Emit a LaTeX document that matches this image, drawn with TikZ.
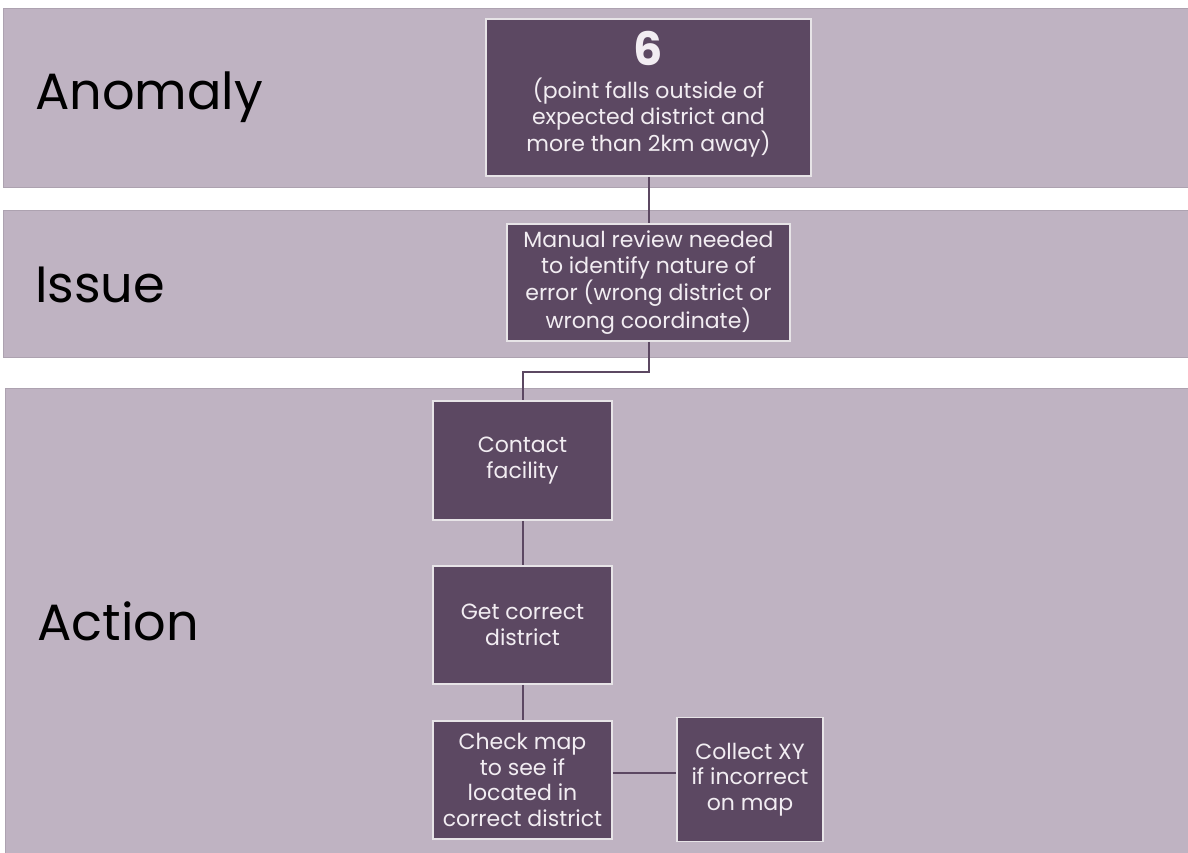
\documentclass[tikz,border=0pt]{standalone}
\usepackage{fontspec}
\setmainfont{Poppins}
\definecolor{bandfill}{HTML}{BFB3C2}
\definecolor{bandedge}{HTML}{ADA2B0}
\definecolor{plum}{HTML}{5C4862}
\definecolor{boxtext}{HTML}{F2EDF2}
\begin{document}
\begin{tikzpicture}[x=1pt,y=-1pt,
  band/.style={fill=bandfill, draw=bandedge, line width=1},
  bandlabel/.style={anchor=west, inner sep=0, text=black, font=\fontsize{51}{55}\selectfont},
  stepbox/.style={fill=plum, draw=white!85!plum, line width=1.5, text=boxtext, align=center,
                  font=\fontsize{22}{25.5}\selectfont, inner sep=0},
  link/.style={draw=plum, line width=2}]
\useasboundingbox (0,0) rectangle (1188,852);
\fill[white] (0,0) rectangle (1188,852);

% swim lanes
\draw[band] (3,8) rectangle (1192,187);
\draw[band] (3,210) rectangle (1192,357);
\draw[band] (5,388) rectangle (1192,856);

\node[bandlabel] (lanomaly) at (35,97) {Anomaly};
\node[bandlabel] (lissue) at (35,285) {Issue};
\node[bandlabel] (laction) at (37,621) {Action};

% steps
\node[stepbox, minimum width=325, minimum height=157] (anom) at (648.5,97.5)
  {{\fontsize{46}{46}\selectfont\bfseries 6}\\[8pt](point falls outside of\\expected district and\\more than 2km away)\rule[-13pt]{0pt}{0pt}};
\node[stepbox, minimum width=283, minimum height=117] (issue) at (648.5,282.5)
  {Manual review needed\\to identify nature of\\error (wrong district or\\wrong coordinate)};
\node[stepbox, minimum width=179, minimum height=119] (contact) at (522.5,460.5)
  {Contact\\facility};
\node[stepbox, minimum width=179, minimum height=118] (getdist) at (522.5,625)
  {Get correct\\district};
\node[stepbox, minimum width=179, minimum height=118] (check) at (522.5,780)
  {Check map\\to see if\\located in\\correct district};
\node[stepbox, minimum width=146, minimum height=124] (collect) at (750,779.5)
  {Collect XY\\if incorrect\\on map};

% connectors
\draw[link] (anom.south) -- (issue.north);
\draw[link] (issue.south) -- ++(0,30) -| (contact.north);
\draw[link] (contact.south) -- (getdist.north);
\draw[link] (getdist.south) -- (check.north);
\draw[link] ([yshift=7]check.east) -- ([yshift=7]check.east -| collect.west);
\end{tikzpicture}
\end{document}
